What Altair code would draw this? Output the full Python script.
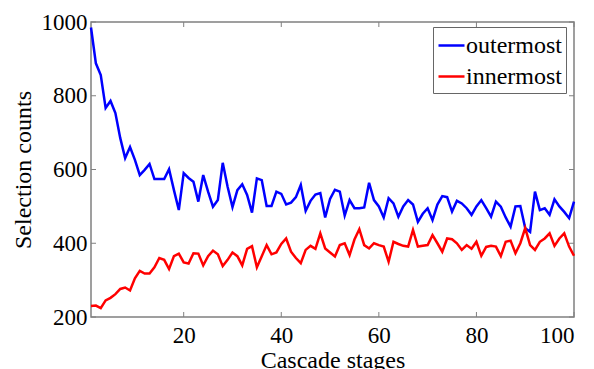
import altair as alt
import pandas as pd

stages = list(range(1, 101))
outermost = [
    985, 888, 856, 767, 786, 753, 685, 631, 661, 626,
    585, 599, 615, 574, 574, 574, 601, 544, 490, 590,
    577, 567, 513, 585, 540, 499, 517, 618, 553, 498,
    544, 560, 531, 483, 576, 571, 501, 501, 540, 534,
    505, 510, 525, 558, 488, 515, 532, 536, 470, 520,
    545, 540, 475, 517, 495, 495, 497, 564, 517, 500,
    470, 522, 508, 472, 500, 517, 505, 458, 480, 495,
    463, 505, 528, 525, 486, 515, 508, 495, 477, 500,
    517, 495, 472, 513, 499, 470, 445, 500, 501, 441,
    431, 540, 490, 495, 477, 519, 500, 485, 468, 513,
]
innermost = [
    230, 231, 224, 245, 252, 262, 276, 280, 272, 305,
    325, 318, 318, 335, 360, 355, 330, 365, 372, 348,
    345, 373, 372, 340, 365, 380, 370, 338, 355, 375,
    365, 340, 385, 392, 335, 365, 395, 370, 375, 398,
    413, 377, 360, 346, 382, 393, 385, 427, 386, 375,
    364, 395, 400, 368, 410, 438, 395, 386, 400, 395,
    391, 350, 404, 398, 393, 391, 436, 391, 393, 395,
    422, 400, 377, 413, 411, 400, 382, 395, 385, 404,
    366, 390, 393, 391, 365, 404, 407, 373, 400, 441,
    395, 382, 404, 413, 427, 393, 413, 427, 391, 366,
]
series_names = ["outermost", "innermost"]
series_colors = ["#0000ff", "#ff0000"]
x_ticks = [20, 40, 60, 80, 100]
y_ticks = [200, 400, 600, 800, 1000]

W, H = 483, 295
FONT = "Liberation Serif, Times New Roman, serif"

df = pd.DataFrame({
    "stage": stages * 2,
    "count": outermost + innermost,
    "series": ["outermost"] * len(stages) + ["innermost"] * len(stages),
})

xscale = alt.Scale(domain=[1, 100], nice=False)
yscale = alt.Scale(domain=[200, 1000], nice=False)
x_axis = alt.Axis(values=x_ticks, title="Cascade stages", ticks=False,
                  domain=False, grid=False, labelPadding=7, titlePadding=1,
                  format="d", labelFont=FONT, titleFont=FONT,
                  labelFontSize=23, titleFontSize=24, labelColor="black",
                  titleColor="black", titleFontWeight="normal")
y_axis = alt.Axis(values=y_ticks, title="Selection counts", ticks=False,
                  domain=False, grid=False, labelPadding=4, titlePadding=6,
                  format="d", labelFont=FONT, titleFont=FONT,
                  labelFontSize=23, titleFontSize=24, labelColor="black",
                  titleColor="black", titleFontWeight="normal")

lines = alt.Chart(df).mark_line(strokeWidth=2.5).encode(
    x=alt.X("stage:Q", scale=xscale, axis=x_axis),
    y=alt.Y("count:Q", scale=yscale, axis=y_axis),
    color=alt.Color("series:N",
                    scale=alt.Scale(domain=series_names, range=series_colors),
                    sort=series_names,
                    legend=alt.Legend(title=None, orient="none", legendX=342,
                                      legendY=5, symbolType="stroke",
                                      symbolSize=676, symbolStrokeWidth=2.5,
                                      labelFont=FONT, labelFontSize=24,
                                      labelColor="black", rowPadding=4,
                                      labelOffset=0, padding=4,
                                      strokeColor="#666666", fillColor="white")),
)

xt = pd.DataFrame({"v": x_ticks})
yt = pd.DataFrame({"v": y_ticks})
tick_style = dict(color="#808080", strokeWidth=1)
xb = alt.Chart(xt).mark_rule(**tick_style).encode(
    x=alt.X("v:Q", scale=xscale, axis=x_axis), y=alt.value(H), y2=alt.value(H - 5))
xtop = alt.Chart(xt).mark_rule(**tick_style).encode(
    x=alt.X("v:Q", scale=xscale, axis=x_axis), y=alt.value(0), y2=alt.value(5))
yl = alt.Chart(yt).mark_rule(**tick_style).encode(
    y=alt.Y("v:Q", scale=yscale, axis=y_axis), x=alt.value(0), x2=alt.value(5))
yr = alt.Chart(yt).mark_rule(**tick_style).encode(
    y=alt.Y("v:Q", scale=yscale, axis=y_axis), x=alt.value(W), x2=alt.value(W - 5))

chart = alt.layer(lines, xb, xtop, yl, yr).properties(
    width=W, height=H,
    autosize=alt.AutoSizeParams(type="none"),
    padding={"left": 83, "top": 14, "right": 12, "bottom": 56},
).configure(
    font=FONT
).configure_view(
    stroke="#808080", strokeWidth=1.5
)

chart.save("out.html", embed_options={"renderer": "svg", "actions": False})
